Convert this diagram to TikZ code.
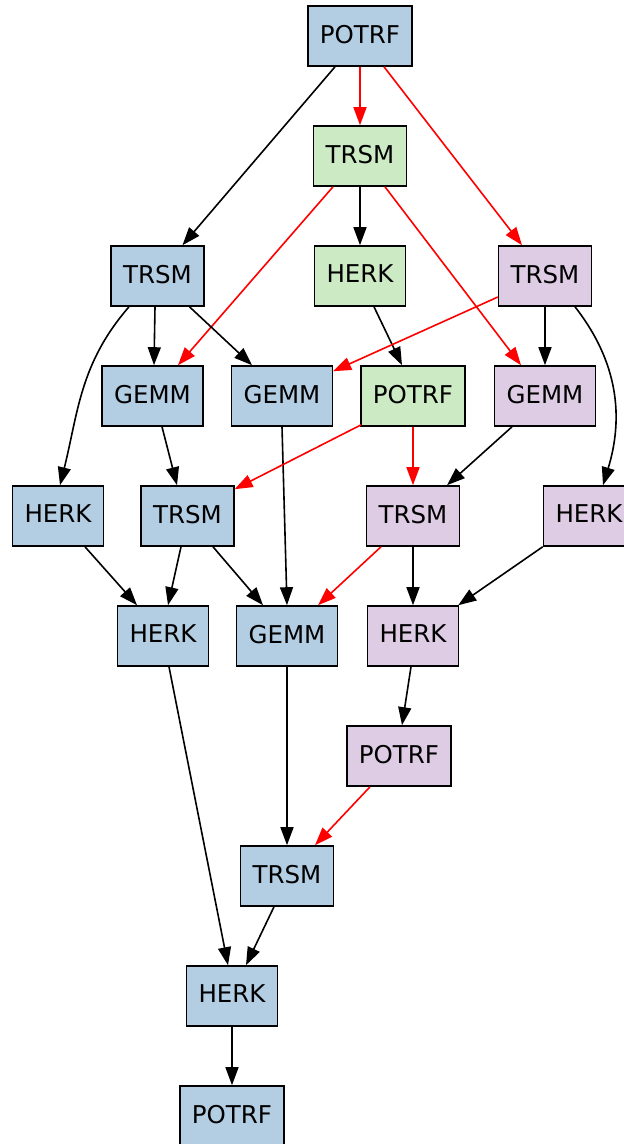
\documentclass[tikz,border=0pt]{standalone}
\usepackage{fontspec}
\setmainfont{DejaVu Sans}
\usetikzlibrary{arrows.meta}
\definecolor{kblue}{HTML}{B3CDE3}
\definecolor{kgreen}{HTML}{CCEBC5}
\definecolor{kpurple}{HTML}{DECBE4}
\begin{document}
\begin{tikzpicture}[x=1pt,y=1pt,
  task/.style={draw=black, line width=1.6pt, rectangle, minimum height=60pt,
    inner xsep=12pt, inner ysep=0pt, text depth=4pt,
    font=\fontsize{24.5}{28}\selectfont},
  bt/.style={task, fill=kblue},
  gt/.style={task, fill=kgreen},
  pt/.style={task, fill=kpurple},
  dep/.style={line width=1.6pt, draw=black, -{Triangle[length=18pt,width=13pt]}},
  crit/.style={dep, draw=red, -{Triangle[length=18pt,width=13pt,fill=red]}, red},
]
\path[use as bounding box] (0,0) rectangle (624,-1144);

% tasks
\node[bt] (p1)  at (360,-36)     {POTRF};
\node[gt] (t2)  at (360,-156)    {TRSM};
\node[bt] (t3a) at (157.5,-276)  {TRSM};
\node[gt] (h3b) at (360,-276)    {HERK};
\node[pt] (t3c) at (545,-276)    {TRSM};
\node[bt] (g4a) at (152.5,-396)  {GEMM};
\node[bt] (g4b) at (282,-396)    {GEMM};
\node[gt] (p4)  at (413,-396)    {POTRF};
\node[pt] (g4c) at (545,-396)    {GEMM};
\node[bt] (h5a) at (58,-516)     {HERK};
\node[bt] (t5b) at (187.5,-516)  {TRSM};
\node[pt] (t5c) at (413,-516)    {TRSM};
\node[pt] (h5d) at (589,-516)    {HERK};
\node[bt] (h6a) at (163,-636)    {HERK};
\node[bt] (g6b) at (287,-636)    {GEMM};
\node[pt] (h6c) at (413,-636)    {HERK};
\node[pt] (p7)  at (399,-756)    {POTRF};
\node[bt] (t8)  at (287,-876)    {TRSM};
\node[bt] (h9)  at (232,-996)    {HERK};
\node[bt] (p10) at (232,-1116)   {POTRF};

% dependencies
\draw[dep]  ([xshift=-25pt]p1.south) -- ([xshift=25pt]t3a.north);
\draw[crit] (p1.south) -- (t2.north);
\draw[crit] ([xshift=24pt]p1.south) -- ([xshift=-23pt]t3c.north);

\draw[dep]  (t2.south) -- (h3b.north);
\draw[crit] ([xshift=-27pt]t2.south) -- ([xshift=25.5pt]g4a.north);
\draw[crit] ([xshift=25pt]t2.south) -- ([xshift=-24pt]g4c.north);

\draw[dep]  ([xshift=-2.5pt]t3a.south) -- ([xshift=1.5pt]g4a.north);
\draw[dep]  ([xshift=32pt]t3a.south) -- ([xshift=-30pt]g4b.north);
\draw[dep]  ([xshift=-28.5pt]t3a.south) to[out=-131,in=76] ([xshift=2pt]h5a.north);

\draw[dep]  ([xshift=14pt]h3b.south) -- ([xshift=-11pt]p4.north);

\draw[crit] ([yshift=-21pt]t3c.west) -- ([yshift=-6pt]g4b.north east);
\draw[dep]  (t3c.south) -- (g4c.north);
\draw[dep]  ([xshift=30pt]t3c.south) to[out=-52,in=73] ([xshift=14pt]h5d.north);

\draw[dep]  ([xshift=9.5pt]g4a.south) -- ([xshift=-10.5pt]t5b.north);
\draw[dep]  (g4b.south) -- (g6b.north);
\draw[crit] ([xshift=1pt,yshift=2pt]p4.south west) -- ([yshift=-4pt]t5b.north east);
\draw[crit] (p4.south) -- (t5c.north);
\draw[dep]  ([xshift=-33pt]g4c.south) -- ([xshift=34pt]t5c.north);

\draw[dep]  ([xshift=27pt]h5a.south) -- ([xshift=-26pt]h6a.north);
\draw[dep]  ([xshift=-6.5pt]t5b.south) -- ([xshift=5pt]h6a.north);
\draw[dep]  ([xshift=25.5pt]t5b.south) -- ([xshift=-24pt]g6b.north);
\draw[crit] ([xshift=-32pt]t5c.south) -- ([xshift=31pt]g6b.north);
\draw[dep]  (t5c.south) -- (h6c.north);
\draw[dep]  (h5d.south west) -- ([xshift=-1pt]h6c.north east);

\draw[dep]  ([xshift=6pt]h6a.south) -- ([xshift=-4pt]h9.north);
\draw[dep]  (g6b.south) -- (t8.north);
\draw[dep]  ([xshift=-2pt]h6c.south) -- ([xshift=3pt]p7.north);
\draw[crit] ([xshift=-29pt]p7.south) -- ([xshift=28pt]t8.north);
\draw[dep]  ([xshift=-13pt]t8.south) -- ([xshift=14pt]h9.north);
\draw[dep]  (h9.south) -- (p10.north);
\end{tikzpicture}
\end{document}
